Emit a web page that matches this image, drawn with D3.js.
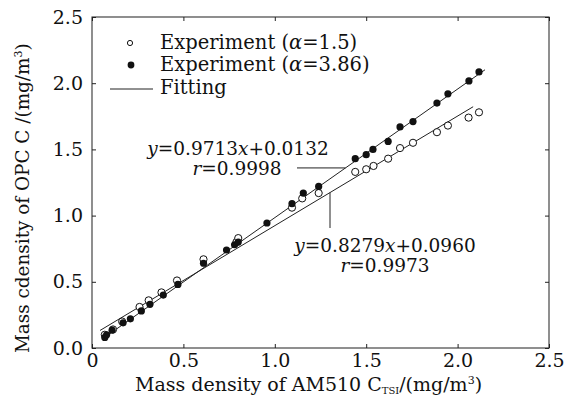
<!DOCTYPE html>
<html><head><meta charset="utf-8">
<script src="https://cdn.jsdelivr.net/npm/d3@7"></script>
<style>body{margin:0;background:#fff}svg{display:block}text{font-family:"DejaVu Serif",serif;fill:#111}</style>
</head><body>
<script>
const xTicks = [0, 0.5, 1.0, 1.5, 2.0, 2.5];
const yTicks = [0, 0.5, 1.0, 1.5, 2.0, 2.5];
const xTickLabels = ["0", "0.5", "1.0", "1.5", "2.0", "2.5"];
const yTickLabels = ["0.0", "0.5", "1.0", "1.5", "2.0", "2.5"];

// Experiment (alpha=1.5) open circles
const openX = [0.07, 0.115, 0.165, 0.26, 0.31, 0.38, 0.465, 0.61, 0.79, 0.80, 1.094, 1.15, 1.24, 1.44, 1.50, 1.54, 1.62, 1.685, 1.756, 1.887, 1.947, 2.06, 2.117];
const openY = [0.10, 0.14, 0.20, 0.31, 0.36, 0.42, 0.51, 0.67, 0.80, 0.83, 1.06, 1.13, 1.17, 1.33, 1.35, 1.375, 1.43, 1.51, 1.55, 1.63, 1.68, 1.74, 1.78];
// Experiment (alpha=3.86) filled circles
const fillX = [0.07, 0.08, 0.11, 0.17, 0.21, 0.27, 0.317, 0.39, 0.47, 0.61, 0.736, 0.78, 0.80, 0.957, 1.094, 1.156, 1.24, 1.44, 1.50, 1.537, 1.62, 1.685, 1.756, 1.887, 1.947, 2.062, 2.117];
const fillY = [0.08, 0.10, 0.135, 0.19, 0.22, 0.28, 0.33, 0.40, 0.48, 0.64, 0.74, 0.78, 0.80, 0.944, 1.09, 1.17, 1.22, 1.43, 1.46, 1.50, 1.56, 1.67, 1.71, 1.85, 1.92, 2.017, 2.085];

const fitA = {slope: 0.9713, intercept: 0.0132, x0: 0.06, x1: 2.15};
const fitB = {slope: 0.8279, intercept: 0.0960, x0: 0.044, x1: 2.085};

const legendLabels = ["Experiment (", "Experiment (", "Fitting"];
const legendAlpha = ["1.5", "3.86"];

const W = 569, H = 398;
const svg = d3.select("body").append("svg").attr("width", W).attr("height", H);
const x = d3.scaleLinear().domain([0, 2.5]).range([92, 549]);
const y = d3.scaleLinear().domain([0, 2.5]).range([348, 17]);

// frame
svg.append("rect").attr("x", 92).attr("y", 17).attr("width", 457).attr("height", 331)
  .attr("fill", "none").attr("stroke", "#333").attr("stroke-width", 1.1);

// axes
const tfs = 19;
svg.append("g").attr("transform", "translate(0,348)")
  .call(d3.axisBottom(x).tickValues(xTicks).tickFormat((d,i)=>xTickLabels[i]).tickSize(-4).tickPadding(6));
svg.append("g").attr("transform", "translate(92,0)")
  .call(d3.axisLeft(y).tickValues(yTicks).tickFormat((d,i)=>yTickLabels[i]).tickSize(-4).tickPadding(9));
svg.append("g").attr("transform", "translate(0,17)")
  .call(d3.axisTop(x).tickValues(xTicks).tickFormat("").tickSize(-4));
svg.append("g").attr("transform", "translate(549,0)")
  .call(d3.axisRight(y).tickValues(yTicks).tickFormat("").tickSize(-4));
svg.selectAll(".domain").remove();
svg.selectAll(".tick line").attr("stroke", "#222");
svg.selectAll(".tick text").attr("font-size", tfs).attr("font-family", "DejaVu Serif").attr("fill", "#111");

// fit lines
[fitA, fitB].forEach(f => {
  svg.append("line").attr("x1", x(f.x0)).attr("y1", y(f.slope*f.x0+f.intercept))
    .attr("x2", x(f.x1)).attr("y2", y(f.slope*f.x1+f.intercept))
    .attr("stroke", "#222").attr("stroke-width", 1);
});

// points
svg.append("g").selectAll("circle").data(openX).join("circle")
  .attr("cx", (d)=>x(d)).attr("cy", (d,i)=>y(openY[i])).attr("r", 3.6)
  .attr("fill", "#fff").attr("stroke", "#111").attr("stroke-width", 1);
svg.append("g").selectAll("circle").data(fillX).join("circle")
  .attr("cx", (d)=>x(d)).attr("cy", (d,i)=>y(fillY[i])).attr("r", 3.6)
  .attr("fill", "#111");

// leader lines for annotations
const la = 1.36;
svg.append("line").attr("x1", 297).attr("y1", y(la)).attr("x2", x((la-fitA.intercept)/fitA.slope)).attr("y2", y(la))
  .attr("stroke", "#222").attr("stroke-width", 1);
const lbx = 1.302;
svg.append("line").attr("x1", x(lbx)).attr("y1", y(fitB.slope*lbx+fitB.intercept)).attr("x2", x(lbx)).attr("y2", 228)
  .attr("stroke", "#222").attr("stroke-width", 1);

const efs = 18.5;
function eq(xx, yy, s1, s2, s3, s4) {
  const t = svg.append("text").attr("x", xx).attr("y", yy).attr("font-size", efs).attr("text-anchor", "middle");
  t.append("tspan").attr("font-style", "italic").text(s1);
  t.append("tspan").text(s2);
  t.append("tspan").attr("font-style", "italic").text(s3);
  t.append("tspan").text(s4);
}
eq(238, 155, "y", "=0.9713", "x", "+0.0132");
eq(237, 175, "r", "=0.9998", "", "");
eq(385, 252, "y", "=0.8279", "x", "+0.0960");
eq(385, 272, "r", "=0.9973", "", "");

// legend
const lfs = 19.5;
svg.append("circle").attr("cx", 130).attr("cy", 43).attr("r", 2.6).attr("fill", "#fff").attr("stroke", "#111").attr("stroke-width", 1);
svg.append("circle").attr("cx", 131).attr("cy", 65).attr("r", 3.4).attr("fill", "#111");
svg.append("line").attr("x1", 110).attr("x2", 153).attr("y1", 89).attr("y2", 89).attr("stroke", "#222");
legendAlpha.forEach((v, i) => {
  const t = svg.append("text").attr("x", 160).attr("y", 49 + i*22).attr("font-size", lfs);
  t.append("tspan").text(legendLabels[i]);
  t.append("tspan").attr("font-style", "italic").text("α");
  t.append("tspan").text("=" + v + ")");
});
svg.append("text").attr("x", 160).attr("y", 94).attr("font-size", lfs).text(legendLabels[2]);

// axis titles
const xt = svg.append("text").attr("x", 135).attr("y", 391).attr("font-size", 19);
xt.append("tspan").text("Mass density of AM510 C");
xt.append("tspan").attr("font-size", 10).attr("dy", 3).text("TSI");
xt.append("tspan").attr("dy", -3).text("/(mg/m");
xt.append("tspan").attr("font-size", 11).attr("dy", -7).text("3");
xt.append("tspan").attr("dy", 7).text(")");

const yt = svg.append("text").attr("transform", "translate(29,353) rotate(-90)").attr("font-size", 18.4);
yt.append("tspan").text("Mass cdensity of  OPC C /(mg/m");
yt.append("tspan").attr("font-size", 11).attr("dy", -7).text("3");
yt.append("tspan").attr("dy", 7).text(")");
</script>
</body></html>
